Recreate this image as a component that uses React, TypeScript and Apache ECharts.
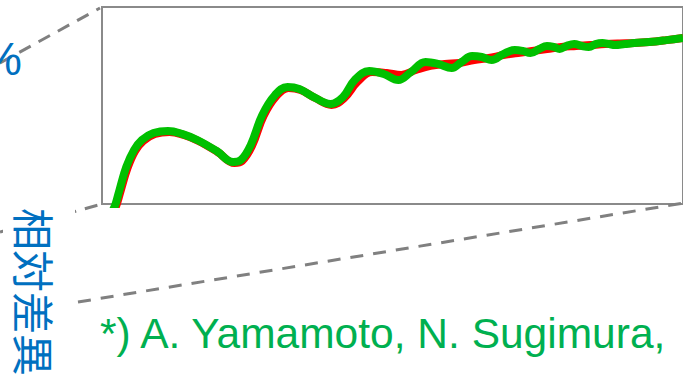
import React, { useEffect, useRef } from "react";
import * as echarts from "echarts";

// green curve (calculation)
const greenX = [1.9, 2.34, 3.01, 4.18, 5.52, 6.86, 8.86, 11.37, 13.88, 16.39, 19.73, 22.58, 23.91, 25.59, 27.59, 29.77, 31.94, 33.95, 36.45, 39.3, 41.47, 43.48, 45.99, 48.49, 51.0, 53.18, 55.69, 57.86, 60.2, 61.87, 63.71, 65.38, 67.06, 69.06, 71.07, 72.41, 73.75, 75.25, 76.59, 77.76, 78.76, 79.93, 81.27, 82.61, 83.78, 84.95, 86.12, 87.29, 88.29, 89.97, 91.64, 94.15, 97.16, 100];
const greenY = [-3, 0, 7.1, 18.8, 27.4, 32.5, 36.0, 37.1, 35.5, 32.5, 26.9, 21.3, 22.3, 29.9, 45.2, 55.3, 59.4, 58.4, 54.3, 50.8, 54.3, 62.9, 67.5, 66.0, 62.9, 67.0, 72.1, 71.1, 69.0, 72.1, 75.1, 74.6, 73.1, 76.1, 78.2, 77.7, 76.6, 78.7, 80.2, 79.7, 78.7, 80.2, 81.2, 80.2, 79.7, 81.2, 81.7, 81.2, 80.7, 81.2, 81.7, 82.2, 83.2, 84.3];

// red curve (reference)
const redX = [2.1, 2.5, 3.2, 4.4, 5.7, 7.1, 9.1, 11.6, 14.1, 16.6, 19.9, 22.8, 24.1, 25.8, 27.8, 30.0, 32.1, 34.2, 36.7, 39.5, 41.7, 44.0, 46.49, 48.99, 51.51, 54.01, 56.52, 59.03, 61.54, 64.05, 66.56, 69.06, 71.57, 74.08, 76.59, 79.1, 81.61, 84.11, 86.62, 89.13, 91.64, 94.15, 97.16, 100];
const redY = [-3, -0.5, 6.6, 18.3, 26.9, 32.0, 35.5, 36.6, 35.0, 32.0, 26.4, 20.8, 21.8, 29.4, 44.7, 54.8, 58.9, 57.9, 53.8, 50.3, 53.8, 62.1, 67.0, 66.5, 65.5, 68.0, 70.1, 71.1, 71.6, 73.1, 74.1, 75.6, 76.6, 77.7, 78.7, 79.7, 80.2, 80.7, 81.2, 81.5, 81.7, 82.2, 83.2, 84.3];

const percentLabel = "%";
const verticalLabel = "相対差異";
const citation = "*) A. Yamamoto, N. Sugimura,";

const BLUE = "#0070C0";
const GREEN_TEXT = "#00B050";
const DASH = "#808080";

export default function App() {
  const ref = useRef<HTMLDivElement>(null);
  useEffect(() => {
    if (!ref.current) return;
    const chart = echarts.init(ref.current, undefined, { renderer: "svg" });
    chart.setOption({
      animation: false,
      grid: {
        left: 102,
        top: 7,
        width: 598,
        height: 197,
        show: true,
        borderColor: "#8a8a8a",
        borderWidth: 2,
        backgroundColor: "#fff",
      },
      xAxis: { type: "value", min: 0, max: 100, show: false },
      yAxis: { type: "value", min: 0, max: 100, show: false },
      series: [
        {
          type: "line",
          data: redX.map((x, i) => [x, redY[i]]),
          smooth: 0.4,
          showSymbol: false,
          lineStyle: { color: "#ff0000", width: 8 },
          clip: true,
          z: 2,
        },
        {
          type: "line",
          data: greenX.map((x, i) => [x, greenY[i]]),
          smooth: 0.4,
          showSymbol: false,
          lineStyle: { color: "#00c000", width: 8 },
          clip: true,
          z: 3,
        },
      ],
      graphic: [
        {
          type: "line",
          z: 5,
          shape: { x1: 0, y1: 63, x2: 100, y2: 8 },
          style: { stroke: DASH, lineWidth: 3, lineDash: [13, 9] },
        },
        {
          type: "line",
          z: 5,
          shape: { x1: 0, y1: 232, x2: 102, y2: 204 },
          style: { stroke: DASH, lineWidth: 3, lineDash: [13, 9] },
        },
        {
          type: "line",
          z: 5,
          shape: { x1: 78, y1: 302, x2: 690, y2: 202 },
          style: { stroke: DASH, lineWidth: 3, lineDash: [13, 10] },
        },
        {
          type: "rect",
          z: 10,
          shape: { x: 3, y: 208, width: 72, height: 167 },
          style: { fill: "#fff" },
        },
        {
          type: "text",
          x: -19,
          y: 59,
          z: 20,
          style: {
            text: percentLabel,
            font: '46px "Liberation Sans"',
            fill: BLUE,
            align: "left",
            verticalAlign: "middle",
          },
        },
        {
          type: "text",
          x: 35,
          y: 208,
          rotation: -Math.PI / 2,
          z: 20,
          style: {
            text: verticalLabel,
            font: '42px "Noto Sans CJK JP"',
            fill: BLUE,
            align: "left",
            verticalAlign: "middle",
          },
        },
        {
          type: "text",
          x: 100,
          y: 333,
          z: 20,
          style: {
            text: citation,
            font: '42.5px "Liberation Sans"',
            fill: GREEN_TEXT,
            align: "left",
            verticalAlign: "middle",
          },
        },
      ],
    });
    return () => chart.dispose();
  }, []);
  return (
    <div
      ref={ref}
      style={{ position: "fixed", left: 0, top: 0, width: 683, height: 375, background: "#fff" }}
    />
  );
}
